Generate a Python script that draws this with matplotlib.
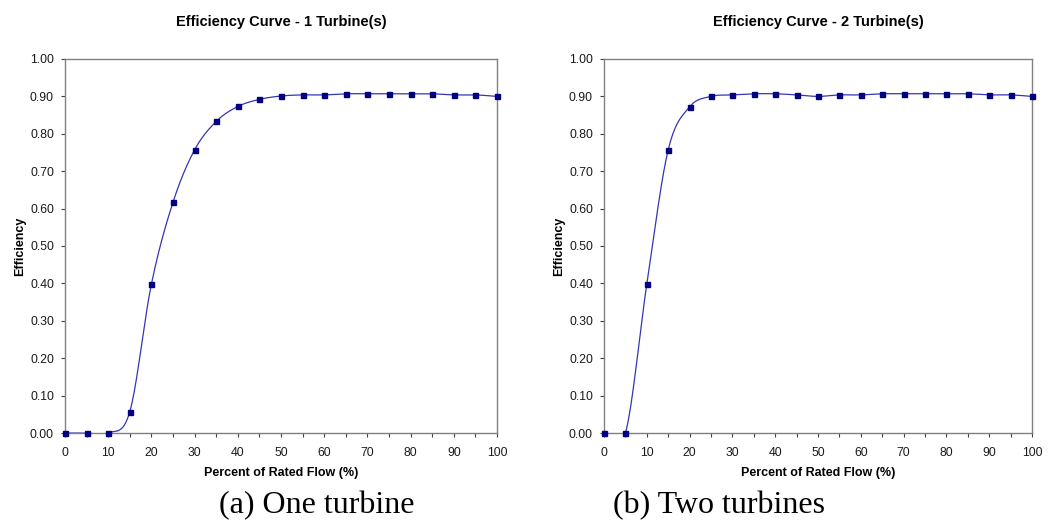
import numpy as np
import matplotlib
matplotlib.use("Agg")
import matplotlib.pyplot as plt
from matplotlib.ticker import MultipleLocator, FormatStrFormatter

plt.rcParams['font.family'] = ['Liberation Sans', 'DejaVu Sans']

flow = [0, 5, 10, 15, 20, 25, 30, 35, 40, 45, 50, 55, 60, 65, 70, 75, 80, 85, 90, 95, 100]
eff_one = [0.0, 0.0, 0.0, 0.057, 0.398, 0.617, 0.757, 0.833, 0.873, 0.892, 0.901, 0.904,
           0.904, 0.907, 0.907, 0.907, 0.907, 0.907, 0.904, 0.904, 0.900]
eff_two = [0.0, 0.0, 0.398, 0.757, 0.872, 0.900, 0.904, 0.907, 0.907, 0.904, 0.900, 0.904,
           0.904, 0.907, 0.907, 0.907, 0.907, 0.907, 0.904, 0.904, 0.900]
titles = ['Efficiency Curve - 1 Turbine(s)', 'Efficiency Curve - 2 Turbine(s)']
captions = ['(a) One turbine', '(b) Two turbines']

W, H = 1049, 521
LINE = '#3535b5'
MARK = '#000080'


def smooth(x, y, n=20):
    # Excel-style smoothed line (Catmull-Rom bezier segments)
    x = np.asarray(x, float)
    y = np.asarray(y, float)
    px = np.concatenate([[x[0]], x, [x[-1]]])
    py = np.concatenate([[y[0]], y, [y[-1]]])
    xs, ys = [], []
    t = np.linspace(0, 1, n)
    for i in range(1, len(px) - 2):
        p0 = np.array([px[i], py[i]])
        p3 = np.array([px[i + 1], py[i + 1]])
        p1 = p0 + (np.array([px[i + 1], py[i + 1]]) - np.array([px[i - 1], py[i - 1]])) / 6
        p2 = p3 - (np.array([px[i + 2], py[i + 2]]) - np.array([px[i], py[i]])) / 6
        b = ((1 - t) ** 3)[:, None] * p0 + (3 * (1 - t) ** 2 * t)[:, None] * p1 \
            + (3 * (1 - t) * t ** 2)[:, None] * p2 + (t ** 3)[:, None] * p3
        xs.extend(b[:, 0])
        ys.extend(b[:, 1])
    return np.array(xs), np.array(ys)


fig = plt.figure(figsize=(W / 100, H / 100), dpi=100)

boxes = [(65, 59, 432, 374), (604, 59, 428, 374)]
for k, (eff, box) in enumerate(zip([eff_one, eff_two], boxes)):
    l, t, w, h = box
    ax = fig.add_axes([l / W, (H - t - h) / H, w / W, h / H])
    sx, sy = smooth(flow, eff)
    ax.plot(sx, sy, color=LINE, lw=0.9, zorder=2)
    ax.plot(flow, eff, ls='none', marker='s', ms=3.6, color=MARK, zorder=3, clip_on=False)
    ax.set_xlim(0, 100)
    ax.set_ylim(0, 1.0)
    ax.xaxis.set_major_locator(MultipleLocator(10))
    ax.xaxis.set_minor_locator(MultipleLocator(5))
    ax.yaxis.set_major_locator(MultipleLocator(0.1))
    ax.yaxis.set_major_formatter(FormatStrFormatter('%.2f'))
    ax.tick_params(which='both', direction='out', length=3, width=0.8, color='#404040',
                   labelsize=8.8, labelcolor='#1a1a1a')
    ax.tick_params(axis='y', pad=5)
    ax.tick_params(axis='x', pad=7)
    for s in ax.spines.values():
        s.set_color('#808080')
        s.set_linewidth(1.0)
    ax.set_title(titles[k], fontsize=10.5, fontweight='bold', pad=24)
    ax.set_xlabel('Percent of Rated Flow (%)', fontsize=9, fontweight='bold', labelpad=6)
    ax.set_ylabel('Efficiency', fontsize=9, fontweight='bold', labelpad=3)

fig.text(317 / W, 1 - 506 / H, captions[0], family=['Liberation Serif', 'DejaVu Serif'],
         fontsize=23, ha='center', va='center')
fig.text(719 / W, 1 - 506 / H, captions[1], family=['Liberation Serif', 'DejaVu Serif'],
         fontsize=23, ha='center', va='center')

fig.savefig('out.png', dpi=100)
